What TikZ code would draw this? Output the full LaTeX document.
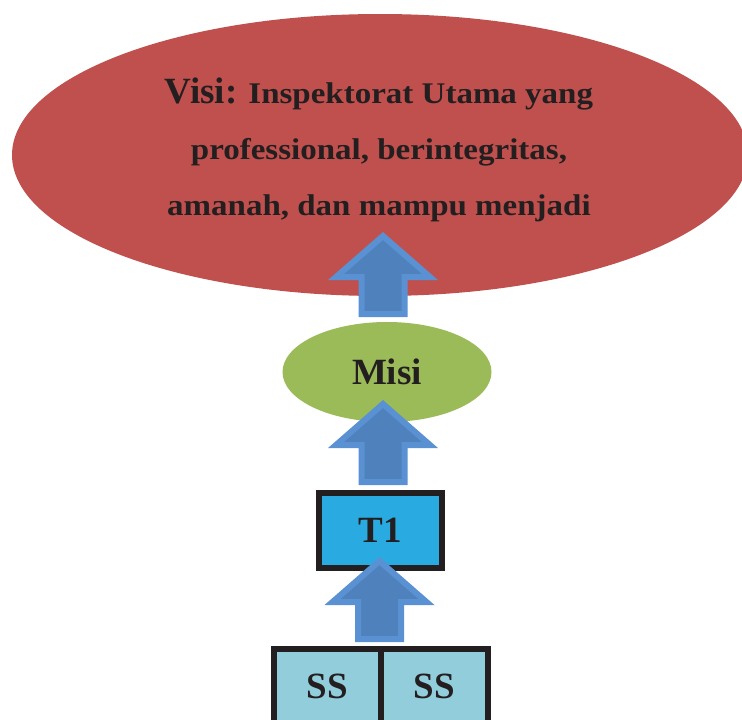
\documentclass[tikz,border=0pt]{standalone}
\usepackage{fontspec}
\setmainfont{Liberation Serif}
\newfontfamily\widefont{Liberation Serif}[FakeStretch=1.1]
\usetikzlibrary{shapes.geometric,calc}
\definecolor{visired}{RGB}{192,80,77}
\definecolor{misigreen}{RGB}{155,187,89}
\definecolor{arrowfill}{RGB}{79,129,189}
\definecolor{arrowedge}{RGB}{90,145,210}
\definecolor{tblue}{RGB}{41,171,226}
\definecolor{ssblue}{RGB}{146,205,220}
\definecolor{ink}{RGB}{35,31,32}
\begin{document}
\begin{tikzpicture}[x=1pt,y=-1pt,
  every node/.style={outer sep=0pt, inner sep=0pt, text=ink},
  bigell/.style={ellipse, fill=visired, draw=none, minimum width=736pt, minimum height=282pt},
  visitext/.style={align=center, font=\widefont\bfseries\fontsize{30}{56}\selectfont},
  misiell/.style={ellipse, fill=misigreen, draw=none, minimum width=209pt, minimum height=100pt, font=\bfseries\fontsize{37}{40}\selectfont},
  tbox/.style={rectangle, fill=tblue, draw=ink, line width=6pt, minimum width=123pt, minimum height=75pt, font=\bfseries\fontsize{37}{40}\selectfont},
  ssbox/.style={rectangle, fill=ssblue, draw=ink, line width=6pt, minimum width=107pt, minimum height=74pt, font=\bfseries\fontsize{37}{40}\selectfont},
  blockarrow/.style={fill=arrowfill, draw=arrowedge, line width=6pt, line join=miter},
  pics/uparrow/.style={code={
    \path[blockarrow] (-21.5,0) -- (-21.5,-37) -- (-47,-37) -- (0,-78) -- (47,-37)
      -- (21.5,-37) -- (21.5,0) -- cycle;
  }}
]
\useasboundingbox (0,0) rectangle (742,720);
\clip (0,0) rectangle (742,720);
\fill[white] (0,0) rectangle (742,720);

\node[bigell] (visi) at (380,155) {};
\node[visitext] (visitxt) at (379,150) {{\normalfont\bfseries\fontsize{37}{40}\selectfont Visi:} Inspektorat Utama yang\\ professional, berintegritas,\\ amanah, dan mampu menjadi};

\node[misiell] (misi) at (387,372) {Misi};
\node[tbox] (t1) at (380.5,530.5) {T1};
\node[ssbox] (ss1) at (327.5,686) {SS};
\node[ssbox] (ss2) at (434.5,686) {SS};

% block arrows from lower node to upper node
\coordinate (a1tail) at ($(misi.north)+(-4,-8)$);
\coordinate (a2tail) at ($(t1.north)+(2.5,-11)$);
\coordinate (a3tail) at ($(ss1.north east)+(-1.5,-10)$);
\pic at (a1tail) {uparrow};
\pic at (a2tail) {uparrow};
\pic at (a3tail) {uparrow};
\end{tikzpicture}
\end{document}
